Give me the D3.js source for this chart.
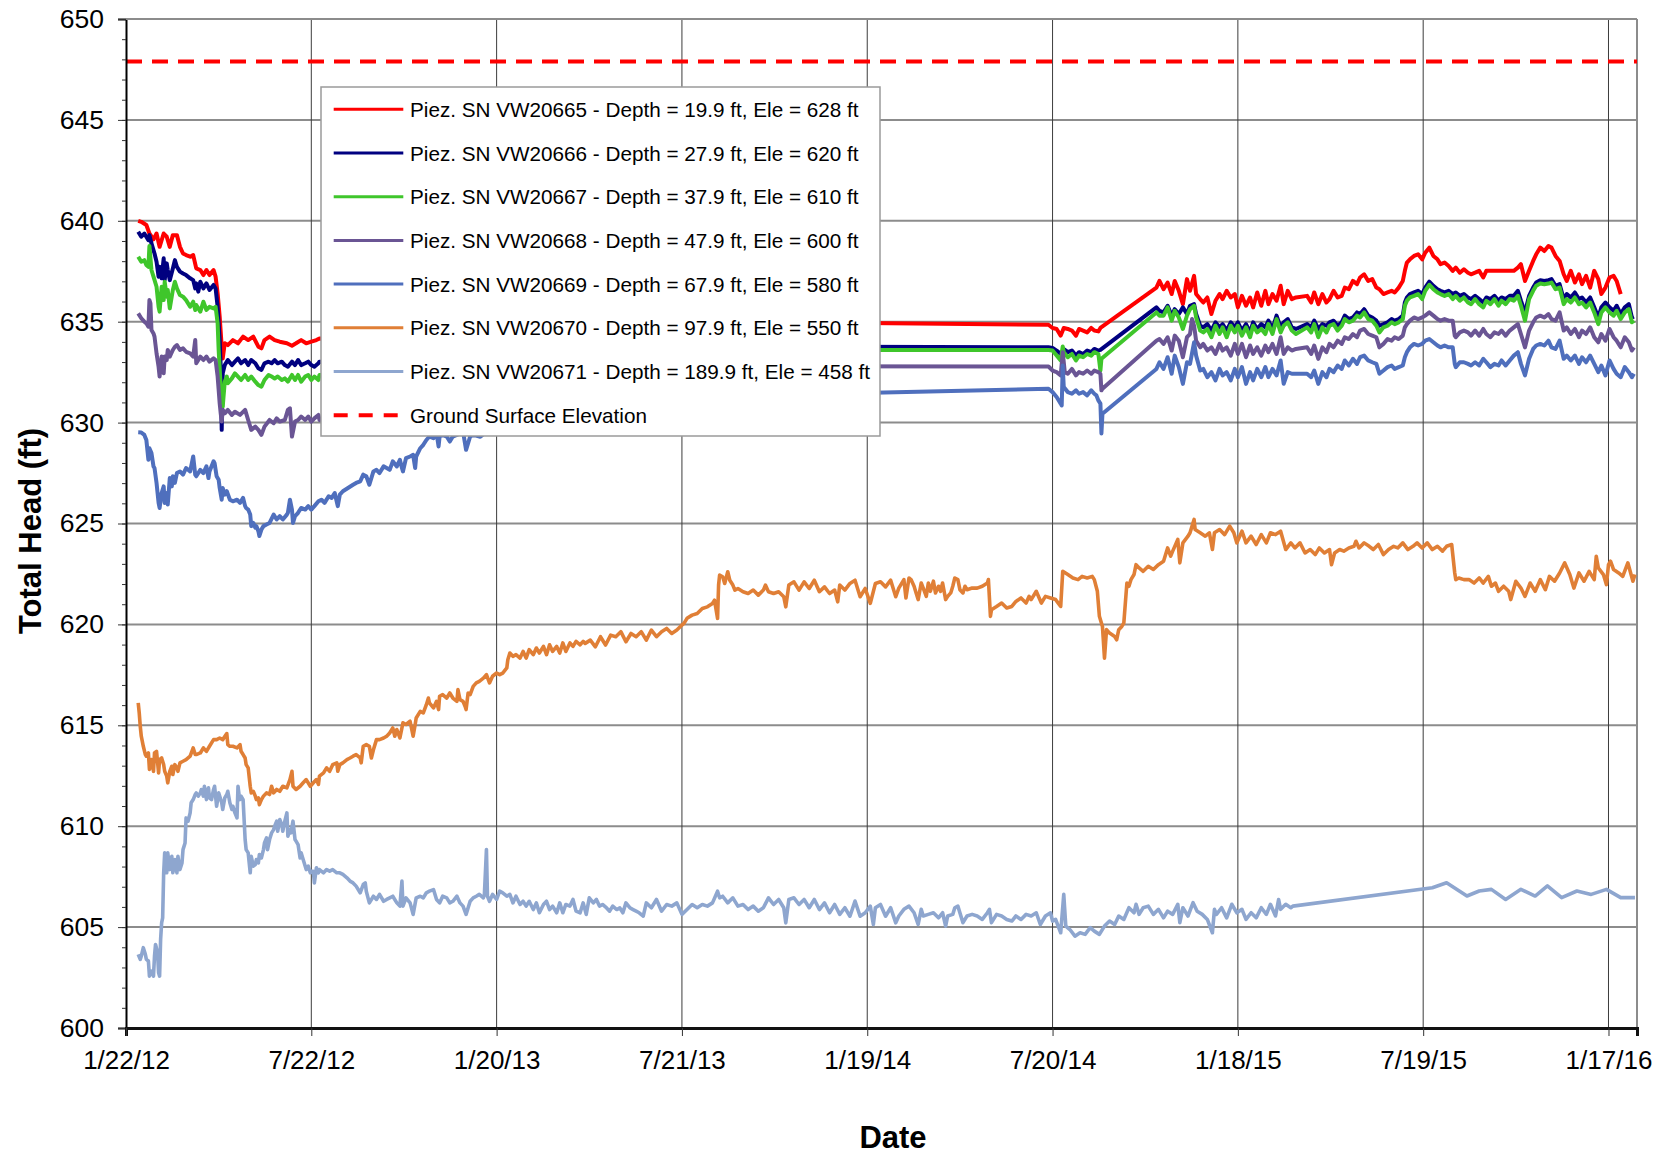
<!DOCTYPE html>
<html>
<head>
<meta charset="utf-8">
<script src="https://cdn.jsdelivr.net/npm/d3@7"></script>
<style>
  body { margin: 0; background: #fff; }
  svg { display: block; font-family: "Liberation Sans", Arial, sans-serif; }
</style>
</head>
<body>
<div id="chart"></div>
<script>
// days are counted from 1/22/12
const START = new Date(2012, 0, 22);
const lastDay = 1484;
const tickDays = [0, 182, 364, 546, 728, 910, 1092, 1274, 1456];
const headTicks = [600, 605, 610, 615, 620, 625, 630, 635, 640, 645, 650];
const groundElevation = 647.9;

const legendLabels = [
  'Piez. SN VW20665 - Depth = 19.9 ft, Ele = 628 ft',
  'Piez. SN VW20666 - Depth = 27.9 ft, Ele = 620 ft',
  'Piez. SN VW20667 - Depth = 37.9 ft, Ele = 610 ft',
  'Piez. SN VW20668 - Depth = 47.9 ft, Ele = 600 ft',
  'Piez. SN VW20669 - Depth = 67.9 ft, Ele = 580 ft',
  'Piez. SN VW20670 - Depth = 97.9 ft, Ele = 550 ft',
  'Piez. SN VW20671 - Depth = 189.9 ft, Ele = 458 ft',
  'Ground Surface Elevation'
];

// [day, total head ft]
const vw20665 = [[12,640.00],[15,639.95],[20,639.79],[23,639.37],[27,639.08],[30,639.37],[33,638.71],[37,639.37],[40,639.21],[43,638.71],[46,639.29],[50,639.29],[53,638.71],[56,638.38],[59,638.30],[63,638.22],[66,638.30],[69,637.64],[73,637.56],[76,637.31],[79,637.56],[82,637.31],[86,637.56],[88,637.23],[90,636.40],[92,635.25],[94,633.76],[95,633.18],[97,633.93],[100,633.84],[105,634.09],[110,633.93],[115,634.26],[120,634.09],[125,634.26],[130,633.76],[133,633.68],[136,634.09],[141,634.26],[146,634.09],[151,634.01],[158,633.93],[163,633.81],[167,633.93],[172,634.09],[177,633.93],[182,634.01],[187,634.09],[190,634.17],[220,634.1],[260,634.4],[300,634.6],[350,634.9],[400,635.1],
  [906,634.85],[910,634.69],[914,634.64],[918,634.31],[921,634.69],[925,634.64],[929,634.56],[933,634.31],[936,634.64],[940,634.56],[944,634.47],[948,634.69],[951,634.56],[955,634.52],[957,634.69],[1012,636.69],[1015,637.02],[1019,636.61],[1023,636.94],[1027,636.37],[1030,637.02],[1034,636.53],[1038,635.87],[1042,637.11],[1045,636.53],[1049,637.27],[1051,636.37],[1055,636.12],[1058,635.95],[1062,636.20],[1066,635.38],[1070,636.04],[1074,636.37],[1077,636.12],[1081,636.53],[1085,636.20],[1089,636.37],[1092,635.71],[1096,636.28],[1100,635.79],[1104,636.20],[1107,635.71],[1111,636.45],[1115,635.79],[1119,636.53],[1122,635.87],[1126,636.37],[1130,636.04],[1134,636.78],[1137,635.87],[1141,636.53],[1145,636.12],[1149,636.20],[1160,636.28],[1164,635.95],[1167,636.45],[1171,635.87],[1175,636.37],[1179,635.95],[1182,636.12],[1186,636.53],[1190,636.20],[1194,636.28],[1197,636.69],[1201,636.61],[1205,637.02],[1209,636.86],[1212,637.19],[1216,637.35],[1220,637.02],[1224,637.11],[1228,636.69],[1231,636.61],[1235,636.37],[1239,636.45],[1243,636.53],[1246,636.45],[1250,636.69],[1254,637.02],[1256,637.52],[1258,637.93],[1261,638.09],[1265,638.26],[1269,638.34],[1273,638.09],[1276,638.42],[1280,638.67],[1284,638.26],[1288,638.09],[1291,637.85],[1295,637.93],[1299,637.76],[1303,637.52],[1306,637.68],[1310,637.43],[1314,637.60],[1318,637.43],[1321,637.35],[1325,637.43],[1329,637.52],[1333,637.19],[1336,637.52],[1363,637.52],[1367,637.68],[1370,637.85],[1374,637.02],[1378,637.52],[1382,638.01],[1385,638.34],[1389,638.67],[1393,638.50],[1397,638.75],[1400,638.67],[1404,638.26],[1408,638.01],[1412,637.35],[1415,637.02],[1419,637.52],[1423,636.94],[1427,637.35],[1430,636.86],[1434,637.27],[1438,636.69],[1442,637.52],[1446,637.11],[1449,636.37],[1453,636.69],[1457,637.19],[1461,637.27],[1464,637.02],[1468,636.37]];

const vw20666 = [[12,639.46],[15,639.21],[18,639.37],[22,639.04],[23,639.29],[25,638.88],[28,638.38],[30,637.97],[32,637.23],[33,637.72],[35,637.15],[37,638.14],[38,637.06],[40,637.89],[41,637.56],[43,637.06],[46,637.64],[48,638.05],[50,637.72],[53,637.48],[56,637.39],[59,637.31],[63,637.15],[66,637.06],[68,636.65],[69,636.90],[71,636.49],[73,636.98],[76,636.65],[79,636.90],[82,636.57],[86,636.82],[88,636.65],[90,635.74],[92,634.09],[93,632.77],[94,629.64],[95,632.44],[97,632.85],[100,633.10],[104,632.85],[107,633.02],[110,633.18],[113,632.94],[117,633.10],[120,632.85],[123,633.10],[127,632.94],[130,632.69],[133,632.61],[136,632.94],[140,633.02],[143,632.94],[146,633.10],[149,632.94],[153,633.02],[156,632.85],[159,632.77],[163,633.02],[166,632.85],[169,633.10],[172,632.85],[176,632.94],[179,633.02],[182,632.85],[185,632.77],[189,632.94],[190,633.02],[220,633.0],[260,633.2],[300,633.4],[350,633.6],[400,633.8],
  [906,633.73],[910,633.70],[914,633.57],[918,633.40],[921,633.65],[925,633.49],[929,633.57],[933,633.32],[936,633.49],[940,633.40],[944,633.57],[948,633.49],[951,633.65],[955,633.57],[957,633.60],[1012,635.71],[1015,635.54],[1019,635.46],[1023,635.79],[1027,635.30],[1030,635.62],[1034,635.38],[1038,635.71],[1042,635.38],[1045,635.79],[1049,635.87],[1051,635.38],[1055,634.80],[1058,634.72],[1062,634.88],[1066,634.56],[1070,634.97],[1074,634.72],[1077,634.88],[1081,634.56],[1085,634.97],[1089,634.72],[1092,634.97],[1096,634.56],[1100,634.88],[1104,634.47],[1107,634.97],[1111,634.64],[1115,634.88],[1119,634.72],[1122,635.05],[1126,634.64],[1130,635.30],[1134,634.72],[1137,634.97],[1141,635.13],[1145,634.72],[1149,634.64],[1160,634.88],[1164,634.72],[1167,635.05],[1171,634.64],[1175,634.88],[1179,634.80],[1182,634.97],[1186,635.05],[1190,634.80],[1194,634.97],[1197,635.30],[1201,635.13],[1205,635.21],[1209,635.46],[1212,635.38],[1216,635.62],[1220,635.30],[1224,635.21],[1228,635.05],[1231,634.80],[1235,634.88],[1239,634.97],[1243,635.13],[1246,635.05],[1250,635.13],[1254,635.30],[1256,635.95],[1258,636.20],[1261,636.37],[1265,636.45],[1269,636.53],[1273,636.37],[1276,636.69],[1280,636.99],[1284,636.78],[1288,636.61],[1291,636.53],[1295,636.45],[1299,636.53],[1303,636.37],[1306,636.45],[1310,636.28],[1314,636.37],[1318,636.20],[1321,636.12],[1325,636.28],[1329,636.12],[1333,635.95],[1336,636.20],[1340,636.12],[1344,636.28],[1348,636.04],[1351,636.20],[1355,636.12],[1359,636.28],[1363,636.28],[1367,636.53],[1370,636.04],[1374,635.46],[1378,636.28],[1382,636.69],[1385,636.94],[1389,637.06],[1393,637.02],[1397,637.06],[1400,637.11],[1404,636.78],[1408,636.86],[1412,636.12],[1415,636.37],[1419,636.20],[1423,636.45],[1427,636.12],[1430,636.20],[1434,635.95],[1438,636.20],[1442,635.71],[1446,635.21],[1449,635.71],[1453,635.95],[1457,635.71],[1461,635.54],[1464,635.79],[1468,635.38],[1472,635.71],[1476,635.87],[1479,635.21],[1481,635.25]];

const vw20667 = [[12,638.22],[15,637.97],[18,638.05],[20,637.81],[22,637.72],[23,638.75],[25,637.56],[27,637.23],[30,636.73],[32,635.74],[33,635.50],[35,636.73],[37,636.07],[38,636.98],[40,636.24],[41,636.57],[43,635.66],[46,636.57],[48,636.98],[50,636.65],[53,636.32],[56,636.24],[59,636.07],[63,635.74],[66,635.99],[68,635.58],[69,635.83],[73,635.50],[76,635.99],[79,635.58],[82,635.74],[86,635.66],[88,635.74],[90,634.92],[91,633.60],[93,631.78],[94,630.96],[95,630.79],[97,632.03],[99,632.28],[100,631.95],[104,632.19],[107,632.44],[110,632.28],[113,632.11],[117,632.36],[120,632.11],[123,632.28],[127,632.03],[130,631.86],[133,631.78],[136,632.11],[140,632.36],[143,632.28],[146,632.19],[149,632.28],[153,632.11],[156,632.19],[159,632.03],[163,632.36],[166,632.11],[169,632.36],[172,632.03],[176,632.28],[179,632.36],[182,632.11],[185,632.28],[189,632.11],[190,632.36],[220,632.4],[260,632.7],[300,633.0],[350,633.3],[400,633.6],
  [906,633.60],[910,633.57],[914,633.32],[918,633.08],[920,633.77],[921,633.49],[925,633.24],[929,633.40],[933,633.08],[936,633.32],[940,633.24],[944,633.40],[948,633.32],[951,633.49],[955,633.40],[957,632.58],[958,633.16],[1012,635.46],[1015,635.30],[1019,635.30],[1023,635.71],[1027,635.05],[1030,635.54],[1034,635.21],[1038,634.64],[1042,635.30],[1045,635.62],[1049,635.79],[1051,635.21],[1055,634.56],[1058,634.47],[1062,634.64],[1066,634.23],[1070,634.80],[1074,634.39],[1077,634.72],[1081,634.23],[1085,634.80],[1089,634.47],[1092,634.80],[1096,634.31],[1100,634.72],[1104,634.23],[1107,634.80],[1111,634.47],[1115,634.64],[1119,634.39],[1122,634.88],[1126,634.39],[1130,635.13],[1134,634.47],[1137,634.80],[1141,634.97],[1145,634.56],[1149,634.39],[1160,634.72],[1164,634.47],[1167,634.88],[1171,634.23],[1175,634.72],[1179,634.47],[1182,634.80],[1186,634.88],[1190,634.56],[1194,634.80],[1197,635.13],[1201,634.97],[1205,635.05],[1209,635.30],[1212,635.21],[1216,635.46],[1220,635.13],[1224,635.05],[1228,634.80],[1231,634.47],[1235,634.72],[1239,634.80],[1243,634.97],[1246,634.88],[1250,634.97],[1254,635.13],[1256,635.79],[1258,636.04],[1261,636.20],[1265,636.28],[1269,636.37],[1273,636.12],[1276,636.53],[1280,636.83],[1284,636.61],[1288,636.45],[1291,636.37],[1295,636.28],[1299,636.37],[1303,636.12],[1306,636.28],[1310,636.04],[1314,636.20],[1318,635.95],[1321,635.87],[1325,636.12],[1329,635.87],[1333,635.71],[1336,636.04],[1340,635.87],[1344,636.12],[1348,635.79],[1351,636.04],[1355,635.87],[1359,636.12],[1363,636.04],[1367,636.28],[1370,635.79],[1374,635.05],[1378,636.12],[1382,636.53],[1385,636.78],[1389,636.89],[1393,636.86],[1397,636.89],[1400,636.94],[1404,636.61],[1408,636.69],[1412,635.87],[1415,636.12],[1419,635.95],[1423,636.20],[1427,635.87],[1430,635.95],[1434,635.71],[1438,635.95],[1442,635.46],[1446,634.88],[1449,635.46],[1453,635.71],[1457,635.46],[1461,635.30],[1464,635.54],[1468,635.13],[1472,635.46],[1476,635.62],[1479,634.97],[1481,635.05]];

const vw20668 = [[12,635.41],[15,635.17],[18,635.00],[20,634.92],[22,634.75],[23,636.07],[24,635.91],[25,634.59],[27,634.42],[28,634.26],[30,633.43],[32,632.77],[33,632.28],[35,633.27],[37,632.44],[38,633.27],[40,633.10],[41,633.60],[43,633.27],[46,633.60],[48,633.76],[50,633.84],[53,633.60],[56,633.68],[59,633.51],[63,633.43],[66,633.27],[68,634.09],[69,632.94],[73,633.27],[76,633.10],[79,633.27],[82,633.02],[86,633.18],[88,633.10],[90,632.28],[91,631.62],[92,630.96],[93,630.46],[94,630.05],[95,630.63],[97,630.46],[100,630.63],[104,630.38],[107,630.54],[112,630.38],[117,630.63],[120,630.13],[123,629.64],[127,629.80],[130,629.64],[133,629.39],[136,629.80],[141,630.13],[145,629.97],[148,630.21],[151,630.05],[156,630.13],[159,630.63],[161,630.71],[163,629.31],[166,630.05],[169,630.13],[172,630.30],[176,630.13],[179,630.30],[182,630.05],[185,630.21],[189,630.38],[190,630.13],[220,630.4],[260,631.0],[300,631.6],[350,632.2],[400,632.8],
  [906,632.78],[910,632.58],[914,632.50],[918,632.34],[920,633.49],[922,632.50],[925,632.42],[929,632.66],[933,632.34],[936,632.50],[940,632.42],[944,632.58],[948,632.42],[951,632.58],[955,632.50],[957,632.42],[958,631.60],[959,631.68],[1012,634.06],[1015,634.14],[1019,633.90],[1023,634.23],[1027,633.57],[1030,634.31],[1034,634.06],[1038,633.24],[1042,634.23],[1045,634.39],[1047,635.13],[1049,634.80],[1051,634.06],[1055,633.73],[1058,633.90],[1062,633.57],[1066,633.73],[1070,633.40],[1074,633.90],[1077,633.57],[1081,633.73],[1085,633.32],[1089,633.90],[1092,633.40],[1096,633.90],[1100,633.24],[1104,633.82],[1107,633.40],[1111,633.73],[1115,633.32],[1119,633.82],[1122,633.49],[1126,633.90],[1130,633.40],[1134,634.23],[1137,633.40],[1141,633.73],[1145,633.57],[1149,633.65],[1160,633.73],[1164,633.40],[1167,633.82],[1171,633.16],[1175,633.73],[1179,633.49],[1182,633.90],[1186,633.73],[1190,634.06],[1194,633.90],[1197,634.23],[1201,634.14],[1205,634.39],[1209,634.23],[1212,634.56],[1216,634.64],[1220,634.39],[1224,634.31],[1228,634.23],[1231,633.73],[1235,633.90],[1239,634.14],[1243,634.06],[1246,634.23],[1250,634.14],[1254,634.31],[1256,634.72],[1258,634.88],[1261,635.05],[1265,635.21],[1269,635.13],[1273,635.21],[1276,635.30],[1280,635.46],[1284,635.30],[1288,635.13],[1291,635.05],[1295,635.13],[1299,635.05],[1303,635.05],[1305,634.31],[1306,634.23],[1310,634.47],[1314,634.56],[1318,634.47],[1321,634.31],[1325,634.56],[1329,634.31],[1333,634.64],[1336,634.39],[1340,634.23],[1344,634.47],[1348,634.39],[1351,634.56],[1355,634.31],[1359,634.56],[1363,634.72],[1367,634.88],[1370,634.39],[1374,633.73],[1378,634.56],[1382,634.97],[1385,635.21],[1389,635.30],[1393,635.21],[1397,635.38],[1400,635.13],[1404,635.05],[1408,635.46],[1412,634.56],[1415,634.72],[1419,634.39],[1423,634.64],[1427,634.23],[1430,634.56],[1434,634.39],[1438,634.72],[1442,634.23],[1446,633.98],[1449,634.39],[1453,634.06],[1457,634.64],[1461,634.23],[1464,634.06],[1468,633.73],[1472,634.23],[1476,633.98],[1479,633.57],[1481,633.73]];

const vw20669 = [[12,629.52],[15,629.51],[18,629.39],[20,629.14],[22,628.16],[23,628.73],[25,628.49],[27,627.83],[28,627.75],[30,627.01],[32,626.02],[33,625.77],[35,626.51],[37,626.84],[38,626.02],[40,626.51],[41,625.94],[43,627.25],[45,626.84],[46,627.34],[48,627.01],[50,627.50],[53,627.58],[56,627.42],[59,627.75],[63,627.58],[66,628.32],[68,627.42],[69,627.34],[73,627.66],[76,627.50],[79,627.83],[81,627.25],[82,627.58],[86,628.08],[87,627.99],[89,627.34],[91,627.17],[92,626.76],[94,626.18],[95,626.76],[97,626.43],[99,626.60],[102,626.18],[105,626.10],[109,626.18],[112,626.02],[115,626.27],[117,625.86],[118,625.77],[120,625.69],[122,625.44],[123,624.87],[125,625.03],[127,624.79],[128,624.87],[130,624.62],[131,624.38],[133,624.70],[135,624.87],[138,624.95],[141,625.03],[145,625.44],[148,625.20],[151,625.36],[154,625.20],[158,625.44],[159,625.53],[161,626.18],[163,625.69],[164,625.03],[166,625.36],[169,625.53],[172,625.77],[176,625.69],[179,625.86],[182,625.69],[185,625.86],[189,626.10],[192,626.18],[195,626.02],[199,626.35],[202,626.27],[205,626.51],[208,625.86],[210,626.43],[213,626.60],[218,626.76],[223,626.92],[226,627.01],[230,627.09],[233,627.42],[236,627.34],[239,626.92],[243,627.58],[246,627.66],[249,627.50],[253,627.83],[256,627.75],[259,627.66],[262,628.08],[266,627.83],[269,628.16],[271,627.75],[272,627.58],[275,628.24],[279,628.32],[282,628.40],[284,627.75],[285,628.32],[289,628.73],[292,628.90],[295,629.14],[298,629.31],[302,629.23],[305,629.47],[307,628.82],[308,629.31],[311,629.39],[315,629.31],[318,629.06],[321,629.31],[325,629.39],[328,629.47],[331,629.56],[334,628.65],[338,629.31],[341,629.39],[348,629.3],[365,630.0],[385,630.6],[400,631.1],
  [906,631.68],[910,631.51],[914,631.27],[918,630.94],[919,630.85],[920,632.83],[921,631.76],[925,631.51],[929,631.43],[933,631.60],[936,631.43],[940,631.51],[944,631.35],[948,631.60],[951,631.43],[953,631.35],[955,631.10],[957,630.94],[958,629.46],[959,630.44],[1012,632.66],[1015,632.99],[1019,632.66],[1023,633.24],[1027,632.42],[1030,633.32],[1034,632.75],[1038,631.92],[1042,632.99],[1045,632.91],[1049,633.98],[1051,633.32],[1055,632.58],[1058,632.66],[1062,632.25],[1066,632.50],[1070,632.09],[1074,632.66],[1077,632.34],[1081,632.50],[1085,632.09],[1089,632.66],[1092,632.25],[1096,632.75],[1100,631.92],[1104,632.50],[1107,632.09],[1111,632.66],[1115,632.25],[1119,632.75],[1122,632.25],[1126,632.66],[1130,632.34],[1134,633.08],[1137,631.92],[1141,632.50],[1145,632.42],[1149,632.42],[1160,632.42],[1164,632.25],[1167,632.58],[1171,631.92],[1175,632.50],[1179,632.25],[1182,632.66],[1186,632.50],[1190,632.83],[1194,632.66],[1197,633.08],[1201,632.83],[1205,633.16],[1209,632.91],[1212,633.24],[1216,633.32],[1220,633.08],[1224,632.99],[1228,632.91],[1231,632.42],[1235,632.58],[1239,632.75],[1243,632.83],[1246,632.66],[1250,632.75],[1254,632.83],[1256,633.24],[1258,633.49],[1261,633.73],[1265,633.90],[1269,633.82],[1273,633.90],[1276,634.06],[1280,634.14],[1284,633.98],[1288,633.82],[1291,633.73],[1295,633.82],[1299,633.73],[1303,633.73],[1305,632.91],[1306,632.75],[1310,632.99],[1314,632.99],[1318,632.91],[1321,632.83],[1325,632.99],[1329,632.83],[1333,633.16],[1336,632.99],[1340,632.75],[1344,632.91],[1348,632.83],[1351,633.08],[1355,632.83],[1359,633.08],[1363,633.32],[1367,633.49],[1370,632.91],[1374,632.34],[1378,633.16],[1382,633.65],[1385,633.82],[1389,633.90],[1393,633.82],[1397,634.06],[1400,633.73],[1404,633.65],[1408,634.06],[1412,633.16],[1415,633.32],[1419,633.08],[1423,633.32],[1427,632.91],[1430,633.24],[1434,632.99],[1438,633.32],[1442,632.91],[1446,632.50],[1449,632.83],[1453,632.34],[1457,633.08],[1461,632.66],[1464,632.42],[1468,632.25],[1472,632.75],[1476,632.50],[1479,632.25],[1481,632.42]];

const vw20670 = [[12,616.11],[13,615.61],[14,614.95],[15,614.46],[17,613.96],[19,613.55],[20,613.47],[22,613.63],[23,612.81],[25,613.30],[27,612.72],[28,613.63],[30,613.71],[32,612.64],[33,613.30],[35,613.38],[37,613.05],[38,612.72],[40,612.48],[41,612.15],[43,612.72],[45,612.97],[46,612.56],[48,613.05],[50,612.89],[51,612.72],[53,613.14],[56,613.22],[59,613.30],[63,613.47],[66,613.88],[68,613.55],[69,613.55],[73,613.63],[76,613.88],[79,613.71],[82,613.96],[86,614.29],[89,614.29],[92,614.37],[95,614.29],[99,614.59],[100,614.04],[102,613.96],[105,613.96],[109,613.88],[112,614.04],[113,613.71],[115,613.55],[117,613.38],[118,613.05],[120,612.89],[122,611.98],[123,611.65],[125,611.73],[127,611.49],[128,611.32],[130,611.40],[131,611.07],[133,611.32],[135,611.49],[138,611.65],[141,611.57],[143,611.98],[145,611.65],[148,611.82],[151,611.73],[154,611.98],[158,611.90],[161,612.31],[163,612.72],[164,611.98],[167,611.82],[171,611.98],[174,612.15],[177,612.31],[181,611.98],[184,612.15],[187,612.31],[189,612.07],[190,612.48],[194,612.64],[197,612.89],[200,612.72],[203,613.05],[207,613.14],[208,612.72],[210,613.05],[213,613.14],[217,613.30],[220,613.38],[223,613.47],[226,613.55],[230,613.38],[231,613.14],[233,613.96],[236,614.04],[239,613.96],[241,613.38],[243,613.79],[246,614.29],[249,614.29],[253,614.37],[256,614.46],[259,614.62],[262,614.87],[264,614.46],[266,614.79],[269,614.37],[272,615.12],[275,615.04],[279,615.20],[282,614.46],[284,615.04],[285,615.36],[289,615.69],[292,615.61],[295,616.02],[297,616.35],[298,616.11],[302,615.86],[305,616.19],[307,615.78],[308,616.44],[311,616.52],[315,616.35],[318,616.60],[321,616.35],[325,616.19],[326,616.77],[328,616.27],[331,616.19],[333,615.94],[334,615.78],[336,616.60],[338,616.52],[341,616.93],[344,617.10],[347,617.18],[351,617.34],[354,617.51],[357,617.10],[360,617.43],[364,617.59],[367,617.51],[370,617.59],[374,617.84],[375,618.25],[377,618.58],[380,618.42],[383,618.50],[387,618.33],[390,618.66],[393,618.33],[396,618.75],[400,618.50],[403,618.83],[406,618.58],[410,618.91],[413,618.50],[416,618.99],[419,618.66],[423,618.91],[426,618.58],[429,619.08],[432,618.66],[436,619.08],[439,618.91],[442,619.16],[446,618.99],[449,619.16],
  [451,619.06],[456,619.22],[461,618.89],[466,619.39],[471,618.98],[476,619.47],[481,619.39],[486,619.64],[491,619.14],[496,619.55],[501,619.39],[506,619.64],[511,619.22],[516,619.72],[521,619.39],[526,619.64],[531,619.80],[536,619.55],[541,619.72],[546,619.97],[548,620.05],[551,620.30],[556,620.46],[561,620.54],[566,620.79],[571,620.87],[576,621.04],[578,621.20],[581,620.30],[582,621.95],[583,622.44],[586,622.36],[588,622.03],[591,622.61],[593,622.19],[596,621.95],[598,621.70],[601,621.78],[606,621.62],[611,621.53],[616,621.70],[621,621.45],[626,621.70],[628,621.95],[631,621.62],[636,621.53],[641,621.62],[646,621.37],[648,620.87],[651,621.95],[656,622.11],[661,621.70],[666,622.11],[671,621.78],[676,622.19],[681,621.62],[686,621.86],[691,621.53],[696,621.70],[699,621.12],[701,621.95],[706,621.70],[711,622.03],[716,622.19],[721,621.37],[726,621.78],[731,621.04],[736,622.03],[741,622.11],[746,621.86],[751,622.19],[756,621.37],
  [759,621.80],[764,622.22],[766,621.31],[769,622.30],[771,622.22],[774,621.89],[776,621.56],[778,621.23],[781,622.05],[783,621.80],[786,621.39],[788,622.05],[790,621.64],[793,622.14],[795,621.56],[798,621.89],[800,621.64],[802,622.05],[805,621.23],[807,621.39],[810,621.56],[812,621.89],[814,622.30],[817,622.22],[819,621.72],[822,621.56],[824,621.89],[826,621.72],[831,621.80],[836,621.80],[841,621.89],[846,622.05],[847,622.22],[849,620.40],[850,620.73],[855,620.89],[860,621.06],[865,620.81],[870,620.89],[874,621.14],[879,621.31],[884,621.06],[887,621.39],[889,621.23],[894,621.64],[899,621.06],[903,621.39],[908,621.31],[913,621.23],[918,620.89],[920,622.63],[925,622.47],[930,622.30],[935,622.22],[939,622.38],[944,622.30],[949,622.38],[951,622.22],[954,621.64],[956,620.40],[959,619.90],[961,618.33],[963,619.74],[966,619.57],[971,619.40],[973,619.24],[975,619.74],[978,619.90],[980,620.07],[983,622.05],[985,621.89],[987,622.22],[990,622.47],[992,622.96],[995,622.80],[999,622.63],[1004,622.88],[1009,622.72],[1014,622.96],[1019,623.13],[1023,623.79],[1026,623.38],[1028,623.63],[1033,624.21],[1035,623.05],[1038,624.04],[1043,624.37],[1045,624.54],[1048,625.03],[1049,625.20],[1050,624.70],[1055,624.54],[1060,624.37],[1064,624.54],[1067,623.71],[1069,624.54],[1074,624.70],[1079,624.45],[1084,624.87],[1088,624.54],[1091,624.04],[1096,624.62],[1100,624.04],[1105,624.37],[1110,623.96],[1115,624.45],[1120,624.04],[1124,624.54],[1129,624.45],[1134,624.62],[1139,623.71],[1144,624.04],[1148,623.79],[1153,624.04],[1158,623.54],[1163,623.71],[1168,623.46],[1172,623.79],[1177,623.54],[1182,623.71],[1184,622.96],[1187,623.54],[1192,623.71],[1196,623.63],[1201,623.79],[1206,623.87],[1208,624.12],[1211,623.79],[1216,624.04],[1221,623.87],[1225,623.71],[1230,623.96],[1235,623.46],[1240,623.71],[1245,623.87],[1249,623.79],[1254,624.04],[1259,623.71],[1264,623.87],[1268,624.04],[1273,623.79],[1278,624.04],[1283,623.71],[1288,623.87],[1293,623.63],[1297,623.87],[1302,623.96],[1305,622.55],[1306,622.22],[1309,622.30],[1314,622.22],[1319,622.22],[1324,622.05],[1329,622.30],[1333,622.05],[1338,622.38],[1341,621.89],[1345,622.05],[1348,621.64],[1353,621.89],[1358,621.64],[1360,621.23],[1365,622.14],[1370,621.80],[1374,621.39],[1379,622.05],[1384,621.64],[1389,622.22],[1394,621.72],[1398,622.38],[1403,622.14],[1408,622.55],[1413,623.05],[1418,622.47],[1422,621.80],[1427,622.55],[1432,622.14],[1437,622.63],[1442,622.22],[1444,623.38],[1446,622.80],[1451,622.47],[1454,621.97],[1456,622.96],[1458,623.13],[1461,622.72],[1466,622.55],[1470,622.38],[1475,623.05],[1480,622.14],[1482,622.47]];

const vw20671 = [[12,603.65],[14,603.40],[15,603.56],[17,603.98],[19,603.65],[20,603.40],[22,603.32],[23,602.57],[25,602.82],[27,602.57],[28,603.56],[29,604.14],[31,603.73],[32,602.74],[33,602.57],[34,604.39],[35,605.21],[36,605.46],[37,607.69],[38,608.68],[39,608.35],[40,607.69],[41,608.68],[43,607.85],[45,608.51],[46,607.69],[48,608.35],[50,607.69],[51,608.51],[53,607.85],[55,608.18],[56,608.84],[58,609.17],[59,610.41],[61,610.25],[63,610.66],[64,611.16],[66,611.32],[68,611.57],[69,611.65],[71,611.49],[73,611.65],[74,611.82],[76,611.49],[77,611.98],[79,611.32],[81,611.90],[82,611.40],[84,611.32],[86,611.82],[87,611.98],[89,610.99],[91,611.65],[92,611.49],[94,611.16],[95,610.83],[97,611.40],[99,611.57],[100,611.73],[102,611.16],[104,610.83],[105,610.99],[107,610.66],[109,610.41],[110,611.98],[111,611.57],[112,611.32],[113,611.49],[115,611.32],[117,609.34],[118,608.84],[120,608.68],[122,607.69],[123,608.51],[125,608.02],[127,608.10],[128,608.35],[130,608.18],[131,608.60],[133,608.43],[135,608.84],[136,609.17],[138,609.42],[139,608.84],[141,609.34],[143,609.67],[145,609.83],[146,610.00],[148,610.25],[149,609.75],[151,610.33],[153,610.08],[154,609.75],[156,610.25],[158,610.66],[159,609.50],[161,609.83],[162,609.67],[164,610.25],[166,609.34],[167,609.26],[169,609.09],[171,608.43],[172,608.68],[174,608.35],[177,607.85],[179,608.02],[181,607.69],[182,607.77],[184,607.77],[185,607.19],[187,607.94],[189,607.69],[190,607.85],[194,607.69],[197,607.85],[200,607.77],[203,607.85],[207,607.69],[210,607.69],[213,607.61],[217,607.44],[220,607.28],[223,607.19],[226,607.03],[230,606.70],[233,607.11],[235,607.19],[236,606.78],[239,606.20],[243,606.53],[246,606.37],[249,606.62],[253,606.28],[256,606.37],[259,606.45],[262,606.53],[266,606.20],[269,606.04],[271,607.28],[272,606.04],[275,606.45],[279,606.20],[282,605.63],[285,606.45],[289,606.53],[292,606.45],[295,606.70],[298,606.78],[302,606.86],[305,606.37],[308,606.20],[311,606.53],[315,606.45],[318,606.20],[321,606.28],[325,606.53],[328,606.20],[331,606.04],[334,605.63],[338,606.28],[341,606.45],[344,606.53],[347,606.62],[351,606.45],[352,606.62],[354,608.84],[355,606.53],[357,606.28],[360,606.62],[364,606.37],[367,606.78],[370,606.70],[374,606.53],[377,606.62],[380,606.20],[383,606.53],[387,606.12],[390,606.28],[393,606.04],[396,606.28],[400,605.87],[403,606.20],[406,605.71],[410,606.12],[413,606.28],[416,605.87],[419,606.04],[423,605.71],[426,606.20],[429,605.71],[432,606.12],[436,606.04],[439,606.37],[442,605.79],[446,605.71],[449,606.20],[452,605.63],[455,606.45],[459,606.20],[462,606.37],[465,606.04],[468,606.12],[472,605.95],[475,605.79],[478,606.04],[482,605.87],[485,605.95],[488,605.71],[491,606.20],[495,605.95],[498,605.87],[501,605.79],[504,605.71],[508,605.54],
  [511,606.20],[516,605.96],[521,606.37],[526,605.79],[531,606.12],[536,606.04],[541,606.20],[546,605.63],[551,605.87],[556,606.12],[561,605.96],[566,606.12],[571,606.04],[576,606.20],[581,606.78],[583,606.45],[586,606.53],[591,606.20],[596,606.45],[601,606.04],[606,606.12],[611,605.87],[616,606.04],[621,605.79],[626,605.96],[631,606.45],[636,606.12],[641,606.37],[646,605.96],[648,605.21],[651,606.37],[656,606.45],[661,606.12],[666,606.37],[671,605.96],[676,606.37],[681,605.87],[686,606.20],[691,605.71],[696,606.12],[701,605.63],[706,605.96],[711,605.54],[716,606.29],[721,605.54],[726,605.71],[731,606.04],[734,605.13],[736,605.96],[741,606.12],[746,605.54],[751,605.96],[756,605.21],
  [759,605.55],[764,605.88],[769,606.04],[774,605.71],[778,605.13],[781,605.88],[783,605.55],[788,605.63],[793,605.71],[798,605.46],[802,605.71],[805,605.05],[807,605.55],[812,605.63],[814,605.96],[817,606.04],[822,605.22],[826,605.55],[831,605.63],[836,605.55],[841,605.38],[846,605.71],[848,605.88],[850,605.22],[855,605.63],[860,605.55],[865,605.38],[870,605.30],[874,605.55],[879,605.38],[884,605.63],[889,605.55],[894,605.71],[898,605.13],[903,605.55],[908,605.71],[910,605.30],[913,605.38],[918,604.72],[921,606.62],[923,605.05],[927,604.88],[932,604.55],[937,604.72],[942,604.64],[947,604.97],[951,604.80],[956,604.64],[961,605.05],[966,605.30],[971,605.13],[975,605.55],[980,605.38],[985,605.96],[990,605.71],[992,606.13],[995,605.63],[999,605.96],[1004,606.04],[1009,605.63],[1014,605.88],[1019,605.46],[1023,605.79],[1028,605.63],[1033,606.13],[1035,605.22],[1038,605.96],[1043,605.55],[1048,606.21],[1052,605.79],[1057,605.63],[1062,605.38],[1067,604.72],[1069,605.88],[1071,605.63],[1076,605.96],[1081,605.46],[1086,606.13],[1091,605.71],[1096,605.88],[1100,605.38],[1105,605.71],[1110,605.46],[1115,605.96],[1120,605.63],[1124,606.13],[1129,605.55],[1132,606.37],[1134,605.88],[1139,606.13],[1144,605.96],[1146,606.04],
  [1283,606.95],[1297,607.20],[1317,606.54],[1329,606.79],[1341,606.87],[1355,606.37],[1370,606.87],[1384,606.54],[1396,607.04],[1410,606.46],[1425,606.79],[1439,606.62],[1454,606.87],[1468,606.46],[1482,606.46]];

const seriesData = [vw20665, vw20666, vw20667, vw20668, vw20669, vw20670, vw20671];
const seriesColors = ['#ff0000', '#000080', '#3fc62b', '#6a5594', '#4f6fbd', '#e07f36', '#8ea6cf'];
const seriesWidths = [4, 4, 4, 4, 4, 3.6, 3.6];

const width = 1667, height = 1155;
const margin = { top: 19, right: 30, bottom: 127, left: 126 };
const plotRight = width - margin.right;
const plotBottom = height - margin.bottom;

const toDate = d => d3.timeDay.offset(START, d);

const svg = d3.select('#chart').append('svg')
  .attr('width', width)
  .attr('height', height);

const x = d3.scaleTime()
  .domain([START, toDate(lastDay)])
  .range([margin.left, plotRight]);
const y = d3.scaleLinear()
  .domain([600, 650])
  .range([plotBottom, margin.top]);

// grid
svg.append('g')
  .selectAll('line')
  .data(headTicks.slice(1))
  .enter().append('line')
  .attr('x1', margin.left).attr('x2', plotRight)
  .attr('y1', d => y(d)).attr('y2', d => y(d))
  .attr('stroke', '#8c8c8c')
  .attr('stroke-width', 2);
svg.append('g')
  .selectAll('line')
  .data(tickDays.slice(1))
  .enter().append('line')
  .attr('x1', d => x(toDate(d))).attr('x2', d => x(toDate(d)))
  .attr('y1', margin.top).attr('y2', plotBottom)
  .attr('stroke', '#3c3c3c')
  .attr('stroke-width', 1);
svg.append('line')
  .attr('x1', plotRight).attr('x2', plotRight)
  .attr('y1', margin.top).attr('y2', plotBottom)
  .attr('stroke', '#8c8c8c').attr('stroke-width', 2);

// data lines
const line = d3.line()
  .x(d => x(toDate(d[0])))
  .y(d => y(d[1]));

seriesData.forEach((data, i) => {
  svg.append('path')
    .datum(data)
    .attr('d', line)
    .attr('fill', 'none')
    .attr('stroke', seriesColors[i])
    .attr('stroke-width', seriesWidths[i])
    .attr('stroke-linejoin', 'round');
});

svg.append('line')
  .attr('x1', margin.left).attr('x2', plotRight)
  .attr('y1', y(groundElevation)).attr('y2', y(groundElevation))
  .attr('stroke', '#ff0000')
  .attr('stroke-width', 4)
  .attr('stroke-dasharray', '16,10');

// axes
const yAxis = svg.append('g')
  .attr('transform', `translate(${margin.left},0)`)
  .call(d3.axisLeft(y).tickValues(headTicks).tickSize(8).tickPadding(14).tickFormat(d3.format('d')));
svg.append('g')
  .attr('transform', `translate(${margin.left},0)`)
  .call(d3.axisLeft(y).tickValues(d3.range(600, 651, 1)).tickSize(4).tickFormat(''))
  .call(g => g.select('.domain').remove());
yAxis.select('.domain').attr('stroke', '#000').attr('stroke-width', 2);
yAxis.selectAll('text').attr('font-size', 26.5).attr('fill', '#000');

const xAxis = svg.append('g')
  .attr('transform', `translate(0,${plotBottom})`)
  .call(d3.axisBottom(x)
    .tickValues(tickDays.map(toDate))
    .tickSize(8)
    .tickPadding(15)
    .tickFormat(d3.timeFormat('%-m/%-d/%y')));
xAxis.select('.domain').attr('stroke', '#111').attr('stroke-width', 3);
xAxis.selectAll('text').attr('font-size', 26).attr('fill', '#000');

svg.selectAll('.tick line').attr('stroke', '#333');
svg.selectAll('.domain').attr('fill', 'none');

svg.append('line')
  .attr('x1', margin.left).attr('x2', plotRight)
  .attr('y1', margin.top).attr('y2', margin.top)
  .attr('stroke', '#8c8c8c').attr('stroke-width', 2);

// titles
svg.append('text')
  .attr('transform', 'translate(30,531) rotate(-90)')
  .attr('text-anchor', 'middle')
  .attr('dominant-baseline', 'central')
  .attr('font-size', 31)
  .attr('font-weight', 'bold')
  .text('Total Head (ft)');
svg.append('text')
  .attr('x', 893)
  .attr('y', 1148)
  .attr('text-anchor', 'middle')
  .attr('font-size', 31)
  .attr('font-weight', 'bold')
  .text('Date');

// legend
const legend = svg.append('g').attr('transform', 'translate(321,87)');
legend.append('rect')
  .attr('width', 559)
  .attr('height', 349)
  .attr('fill', '#fff')
  .attr('stroke', '#9a9a9a')
  .attr('stroke-width', 1.5);

const legendColors = seriesColors.concat(['#ff0000']);
const rows = legend.selectAll('g.row')
  .data(legendLabels)
  .enter().append('g')
  .attr('class', 'row')
  .attr('transform', (d, i) => `translate(0,${22.3 + i * 43.7})`);
rows.append('line')
  .attr('x1', 12.7).attr('x2', 82.3)
  .attr('stroke', (d, i) => legendColors[i])
  .attr('stroke-width', (d, i) => i === 7 ? 4 : 3)
  .attr('stroke-dasharray', (d, i) => i === 7 ? '14,11' : null);
rows.append('text')
  .attr('x', 89)
  .attr('dominant-baseline', 'central')
  .attr('font-size', 20.7)
  .text(d => d);
</script>
</body>
</html>
